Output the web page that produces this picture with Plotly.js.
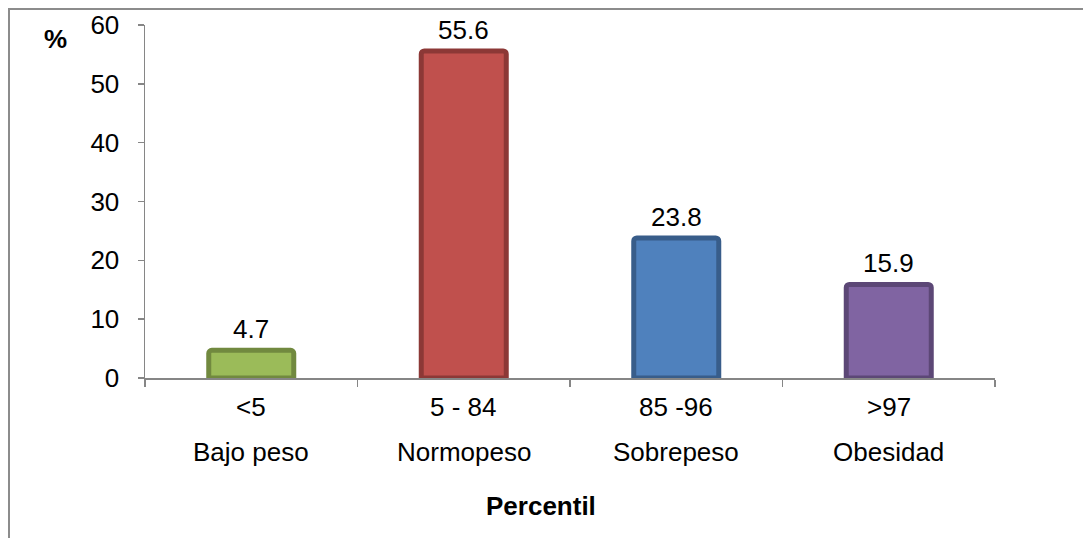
<!DOCTYPE html>
<html>
<head>
<meta charset="utf-8">
<script src="https://cdn.plot.ly/plotly-3.0.1.min.js"></script>
<style>
  html, body { margin: 0; padding: 0; background: #ffffff; }
  #chart { width: 1083px; height: 538px; }
</style>
</head>
<body>
<div id="chart"></div>
<script>
// Percentile ranges, weight category names and share of each group (%)
const ranges = ['<5', '5 - 84', '85 -96', '>97'];
const groups = ['Bajo peso', 'Normopeso', 'Sobrepeso', 'Obesidad'];
const values = [4.7, 55.6, 23.8, 15.9];

const fills = ['#9BBB59', '#C0504D', '#4F81BD', '#8064A2'];
const edges = ['#71893F', '#8C3836', '#385D8A', '#5C4776'];

const FONT = 'Liberation Sans, Arial, sans-serif';
const FS = 26;
const pos = values.map((_, i) => i);

// plot area geometry (px) used to place text below the axis
const plotL = 145, plotR = 995, plotT = 25, plotB = 378;
const plotW = plotR - plotL, plotH = plotB - plotT;
const py = px => (plotB - px) / plotH;   // pixel row -> paper y
const pxx = px => (px - plotL) / plotW;  // pixel column -> paper x

const trace = {
  type: 'bar',
  x: pos,
  y: values,
  width: 0.40,
  marker: {
    color: fills,
    line: { color: edges, width: 5 },
    cornerradius: 3
  },
  hoverinfo: 'skip'
};

const txt = { family: FONT, size: FS, color: '#000' };
const annotations = [];
values.forEach((v, i) => {
  annotations.push({
    x: i, y: v, xref: 'x', yref: 'y',
    text: v.toFixed(1), showarrow: false,
    xanchor: 'center', yanchor: 'bottom', yshift: 4, font: txt
  });
  annotations.push({
    x: i, y: py(407), xref: 'x', yref: 'paper',
    text: ranges[i].replace('<', '&lt;').replace('>', '&gt;'),
    showarrow: false, xanchor: 'center', yanchor: 'middle', font: txt
  });
  annotations.push({
    x: i, y: py(452), xref: 'x', yref: 'paper',
    text: groups[i], showarrow: false,
    xanchor: 'center', yanchor: 'middle', font: txt
  });
});
annotations.push({
  x: pxx(541), y: py(506), xref: 'paper', yref: 'paper',
  text: '<b>Percentil</b>', showarrow: false,
  xanchor: 'center', yanchor: 'middle', font: txt
});
annotations.push({
  x: pxx(55), y: py(39), xref: 'paper', yref: 'paper',
  text: '<b>%</b>', showarrow: false,
  xanchor: 'center', yanchor: 'middle', font: txt
});

const layout = {
  width: 1083,
  height: 538,
  margin: { l: plotL, r: 1083 - plotR, t: plotT, b: 538 - plotB },
  paper_bgcolor: '#ffffff',
  plot_bgcolor: '#ffffff',
  showlegend: false,
  font: txt,
  xaxis: {
    range: [-0.5, 3.5],
    tickvals: [-0.5, 0.5, 1.5, 2.5, 3.5],
    ticktext: ['', '', '', '', ''],
    ticks: 'outside', ticklen: 7, tickwidth: 1.5, tickcolor: '#868686',
    showline: true, linecolor: '#868686', linewidth: 1.5,
    showgrid: false, zeroline: false, fixedrange: true
  },
  yaxis: {
    range: [0, 60],
    tickvals: [0, 10, 20, 30, 40, 50, 60],
    ticks: 'outside', ticklen: 6, tickwidth: 1.5, tickcolor: '#868686',
    ticklabelstandoff: 13,
    showline: true, linecolor: '#868686', linewidth: 1.5,
    showgrid: false, zeroline: false, fixedrange: true,
    tickfont: txt
  },
  annotations: annotations,
  shapes: [{
    type: 'path', xref: 'paper', yref: 'paper',
    path: 'M ' + pxx(9) + ' ' + py(560) +
          ' L ' + pxx(9) + ' ' + py(9) +
          ' L ' + pxx(1100) + ' ' + py(9),
    line: { color: '#8c8c8c', width: 2 }
  }]
};

Plotly.newPlot('chart', [trace], layout, { displayModeBar: false, staticPlot: true });
</script>
</body>
</html>
